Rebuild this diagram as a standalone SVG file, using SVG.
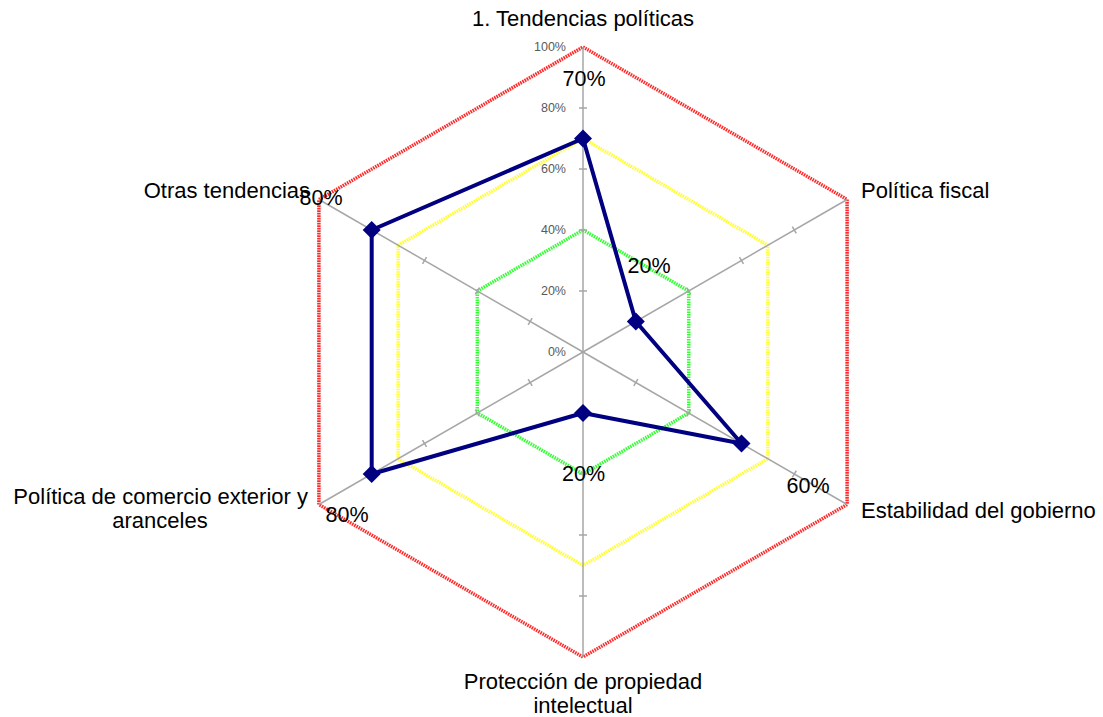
<svg xmlns="http://www.w3.org/2000/svg" width="1103" height="717" viewBox="0 0 1103 717">
  <style>
    .axis { stroke: #a6a6a6; stroke-width: 1.5; fill: none; }
    .tick { stroke: #a6a6a6; stroke-width: 1.5; }
    .ring { fill: none; stroke-width: 3.5; stroke-dasharray: 1.6 0.9; }
    .scale { font-family: "Liberation Sans", Arial, sans-serif; font-size: 12.5px; fill: #595959; text-anchor: end; }
    .cat { font-family: "Liberation Sans", Arial, sans-serif; font-size: 22px; fill: #000; }
    .val { font-family: "Liberation Sans", Arial, sans-serif; font-size: 21.5px; fill: #000; text-anchor: middle; }
    .series { fill: none; stroke: #000080; stroke-width: 4; stroke-linejoin: round; }
    .marker { fill: #000080; }
  </style>
  <defs>
    <path id="diamond" d="M0,-9 L9,0 L0,9 L-9,0 Z"/>
    <g id="ticks4">
      <line class="tick" x1="-4" y1="-61" x2="4" y2="-61"/>
      <line class="tick" x1="-4" y1="-122" x2="4" y2="-122"/>
      <line class="tick" x1="-4" y1="-183" x2="4" y2="-183"/>
      <line class="tick" x1="-4" y1="-244" x2="4" y2="-244"/>
    </g>
  </defs>
  <rect width="1103" height="717" fill="#fff"/>

  <!-- reference rings: 100 %, 70 %, 40 % -->
  <g id="rings">
    <polygon class="ring" stroke="#ff2a2a" points="583,47 847.1,199.5 847.1,504.5 583,657 318.9,504.5 318.9,199.5"/>
    <polygon class="ring" stroke="#ffff33" points="583,138.5 767.9,245.3 767.9,458.8 583,565.5 398.1,458.8 398.1,245.3"/>
    <polygon class="ring" stroke="#33ff33" points="583,230 688.7,291 688.7,413 583,474 477.3,413 477.3,291"/>
  </g>

  <!-- spokes and ticks -->
  <g id="axes">
    <line class="axis" x1="583" y1="352" x2="583" y2="47"/>
    <line class="axis" x1="583" y1="352" x2="847.1" y2="199.5"/>
    <line class="axis" x1="583" y1="352" x2="847.1" y2="504.5"/>
    <line class="axis" x1="583" y1="352" x2="583" y2="657"/>
    <line class="axis" x1="583" y1="352" x2="318.9" y2="504.5"/>
    <line class="axis" x1="583" y1="352" x2="318.9" y2="199.5"/>
    <g transform="translate(583,352)">
      <use href="#ticks4"/>
      <use href="#ticks4" transform="rotate(60)"/>
      <use href="#ticks4" transform="rotate(120)"/>
      <use href="#ticks4" transform="rotate(180)"/>
      <use href="#ticks4" transform="rotate(240)"/>
      <use href="#ticks4" transform="rotate(300)"/>
    </g>
  </g>

  <!-- scale labels on the top spoke -->
  <g id="scale">
    <text class="scale" x="566" y="356">0%</text>
    <text class="scale" x="566" y="295">20%</text>
    <text class="scale" x="566" y="234">40%</text>
    <text class="scale" x="566" y="173">60%</text>
    <text class="scale" x="566" y="112">80%</text>
    <text class="scale" x="566" y="51">100%</text>
  </g>

  <!-- data series -->
  <g id="series">
    <polygon class="series" points="583,138.5 635.8,321.5 741.5,443.5 583,413 371.7,474 371.7,230"/>
    <use href="#diamond" class="marker" x="583" y="138.5"/>
    <use href="#diamond" class="marker" x="635.8" y="321.5"/>
    <use href="#diamond" class="marker" x="741.5" y="443.5"/>
    <use href="#diamond" class="marker" x="583" y="413"/>
    <use href="#diamond" class="marker" x="371.7" y="474"/>
    <use href="#diamond" class="marker" x="371.7" y="230"/>
  </g>

  <!-- category labels -->
  <g id="node-tendencias"><text class="cat" x="583" y="26" text-anchor="middle">1. Tendencias políticas</text></g>
  <g id="node-fiscal"><text class="cat" x="861" y="198">Política fiscal</text></g>
  <g id="node-estabilidad"><text class="cat" x="861" y="518">Estabilidad del gobierno</text></g>
  <g id="node-proteccion">
    <text class="cat" x="583" y="689" text-anchor="middle">Protección de propiedad</text>
    <text class="cat" x="583" y="713" text-anchor="middle">intelectual</text>
  </g>
  <g id="node-comercio">
    <text class="cat" x="308" y="504" text-anchor="end">Política de comercio exterior y</text>
    <text class="cat" x="160" y="528" text-anchor="middle">aranceles</text>
  </g>
  <g id="node-otras"><text class="cat" x="310" y="198" text-anchor="end">Otras tendencias</text></g>

  <!-- value labels -->
  <g id="values">
    <text class="val" x="584" y="86">70%</text>
    <text class="val" x="649" y="273">20%</text>
    <text class="val" x="808" y="493">60%</text>
    <text class="val" x="583.5" y="481">20%</text>
    <text class="val" x="347" y="522">80%</text>
    <text class="val" x="321" y="205">80%</text>
  </g>
</svg>
